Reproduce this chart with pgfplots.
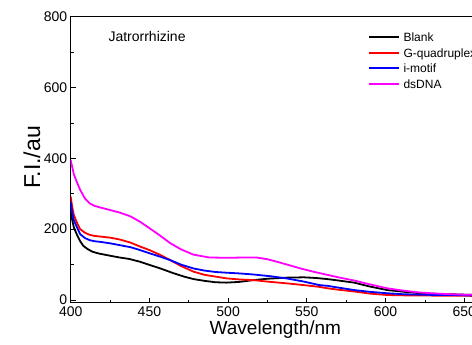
\documentclass[border=0pt]{standalone}
\usepackage{fontspec}
\setmainfont{Liberation Sans}
\usepackage{pgfplots}
\pgfplotsset{compat=1.18}
\definecolor{cBlack}{RGB}{0,0,0}
\definecolor{cRed}{RGB}{255,0,0}
\definecolor{cBlue}{RGB}{0,0,255}
\definecolor{cMag}{RGB}{255,0,255}
\tikzset{lg/.style={anchor=base west, inner sep=0pt, yshift=-4.3bp, font=\fontsize{12bp}{14bp}\selectfont}}
\begin{document}
\begin{tikzpicture}
\begin{axis}[
  at={(0,0)}, anchor=south west,
  scale only axis, width=409.3bp, height=286.1bp,
  xmin=400, xmax=660, ymin=-8, ymax=800,
  xtick={400,450,...,650}, ytick={0,200,...,800},
  minor x tick num=1, minor y tick num=1,
  tick align=inside, xtick pos=bottom, ytick pos=left,
  major tick length=5bp, minor tick length=2.8bp,
  axis line style={line width=0.9bp},
  every tick/.style={black, line width=0.8bp},
  /pgf/number format/assume math mode=true,
  tick label style={font=\fontsize{14bp}{16bp}\selectfont},
  xlabel={Wavelength/nm}, ylabel={F.I./au},
  label style={font=\fontsize{19bp}{22bp}\selectfont},
  xlabel style={at={(axis description cs:0.5,-0.1125)}, anchor=base},
  ylabel style={at={(axis description cs:-0.075,0.508)}, anchor=base, font=\fontsize{23bp}{26bp}\selectfont},
]
\addplot[color=cBlack, line width=1.8bp, no markers] coordinates {
(400,248)(401,225)(402,205)(404,184)(406,166)(408,153)(411,143)(414,136)(418,131)(425,125)
(431,120)(437,116)(444,108)(450,99)(457,89)(465,76)(472,66)(478,59)(485,54)(492,50)
(499,49)(507,51)(516,56)(525,60)(537,63)(548,64)(556,62)(563,59)(570,55)(580,49)
(590,38)(601,28)(612,23)(622,19)(633,17)(643,16)(650,15)(660,14)};
\addplot[color=cRed, line width=1.8bp, no markers] coordinates {
(400,292)(401,262)(402,240)(404,218)(406,200)(409,190)(412,184)(415,181)(419,179)(425,176)
(431,171)(438,162)(444,151)(450,141)(457,127)(463,113)(470,96)(478,80)(485,71)(492,66)
(499,61)(507,58)(516,56)(527,51)(537,47)(548,42)(558,37)(563,33)(570,29)(580,24)
(590,18)(601,14)(612,13)(622,13)(633,12)(643,12)(650,12)(660,11)};
\addplot[color=cBlue, line width=1.8bp, no markers] coordinates {
(400,278)(401,245)(402,225)(404,205)(406,186)(409,175)(412,169)(415,166)(419,164)(425,160)
(431,155)(438,149)(444,141)(450,132)(457,122)(463,113)(470,100)(478,89)(485,83)(492,79)
(499,77)(507,75)(516,72)(527,67)(537,61)(548,52)(558,42)(563,40)(570,35)(580,28)
(590,23)(601,19)(612,16)(622,15)(633,14)(643,14)(650,13)(660,12)};
\addplot[color=cMag, line width=1.8bp, no markers] coordinates {
(400,395)(401,375)(402,355)(404,332)(406,311)(409,287)(412,273)(415,266)(419,261)(425,254)
(431,247)(438,236)(444,221)(450,203)(457,181)(463,161)(470,143)(478,128)(488,120)(500,119)
(510,120)(518,120)(525,115)(531,108)(539,98)(546,89)(554,80)(563,71)(571,63)(580,55)
(590,44)(601,33)(612,26)(622,21)(633,18)(643,16)(650,15)(660,14)};
% legend
\draw[cBlack, line width=1.8bp] (rel axis cs:0.7295,0.9280) -- (rel axis cs:0.8021,0.9280);
\node[lg] at (rel axis cs:0.8126,0.9280) {Blank};
\draw[cRed, line width=1.8bp] (rel axis cs:0.7295,0.8738) -- (rel axis cs:0.8021,0.8738);
\node[lg] at (rel axis cs:0.8126,0.8738) {G-quadruplex};
\draw[cBlue, line width=1.8bp] (rel axis cs:0.7295,0.8196) -- (rel axis cs:0.8021,0.8196);
\node[lg] at (rel axis cs:0.8126,0.8196) {i-motif};
\draw[cMag, line width=1.8bp] (rel axis cs:0.7295,0.7655) -- (rel axis cs:0.8021,0.7655);
\node[lg] at (rel axis cs:0.8126,0.7655) {dsDNA};
\node[anchor=base west, font=\fontsize{14bp}{16bp}\selectfont] at (rel axis cs:0.0838,0.913) {Jatrorrhizine};
\end{axis}
\pgfresetboundingbox
\useasboundingbox (-70.7bp,-42.2bp) rectangle (401.3bp,302.8bp);
\end{tikzpicture}
\end{document}
